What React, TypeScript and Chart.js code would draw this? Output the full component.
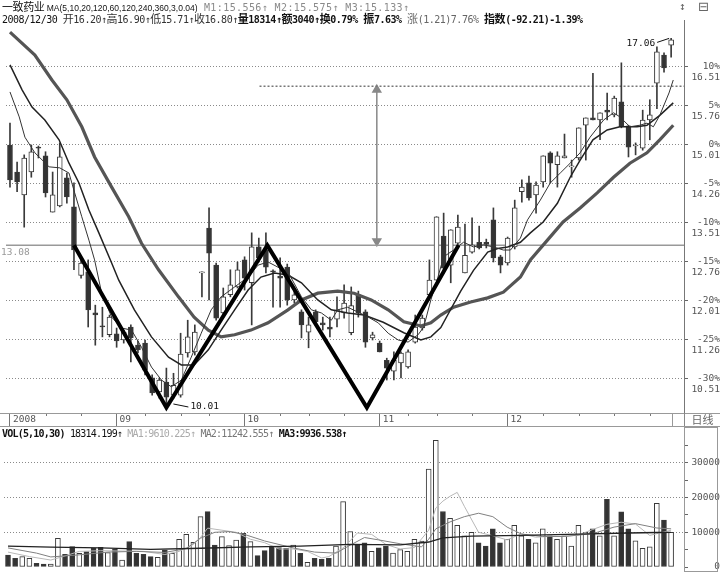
import React, { useEffect, useRef } from "react";
import { Chart, registerables } from "chart.js";

Chart.register(...registerables);

// ---------------- data ----------------
const opens = [
  15.01, 14.49, 14.05, 14.49, 14.97, 14.8, 13.72, 13.84, 14.38, 13.82,
  12.5, 12.57, 11.78, 11.53, 11.36, 11.38, 11.26, 11.51, 11.16, 11.2,
  10.53, 10.26, 10.45, 10.2, 10.2, 11.01, 11.03, 12.55, 13.41, 12.7,
  11.78, 12.13, 12.28, 12.8, 12.36, 13.05, 12.99, 12.59, 12.49, 12.66,
  12.03, 11.8, 11.41, 11.8, 11.59, 11.51, 11.66, 11.78, 11.4, 12.13,
  11.8, 11.3, 11.2, 10.87, 10.66, 10.82, 10.74, 11.22, 11.49, 12.13,
  12.41, 13.26, 12.7, 13.12, 12.55, 12.95, 13.14, 13.14, 13.57, 12.86,
  12.74, 13.05, 14.11, 14.28, 14.05, 14.3, 14.86, 14.63, 14.76, 14.59,
  14.76, 15.39, 15.53, 15.49, 15.68, 15.59, 15.84, 15.38, 14.99, 14.95,
  15.49, 16.2, 16.74, 16.93,
];
const highs = [
  15.43, 14.68, 14.82, 15.01, 14.99, 14.88, 14.49, 15.05, 14.47, 14.28,
  12.8, 12.8, 11.93, 11.89, 11.74, 11.49, 11.45, 11.55, 11.24, 11.26,
  10.59, 10.53, 10.72, 10.62, 11.39, 11.64, 11.55, 12.57, 13.8, 12.74,
  12.26, 12.61, 12.76, 12.86, 13.32, 13.22, 13.32, 12.61, 12.84, 12.72,
  12.2, 11.84, 11.7, 11.84, 11.7, 11.7, 12.09, 12.32, 12.28, 12.2,
  11.84, 11.41, 11.24, 10.91, 11.03, 11.03, 11.07, 11.74, 11.74, 12.8,
  13.63, 13.7, 13.38, 13.66, 13.49, 13.61, 13.45, 13.2, 13.8, 12.89,
  13.24, 13.95, 14.34, 14.41, 14.3, 14.8, 14.88, 14.88, 15.22, 14.72,
  15.34, 15.53, 16.39, 15.63, 16.01, 15.95, 16.59, 15.39, 15.05, 15.68,
  15.88, 16.9, 16.78, 17.06,
];
const lows = [
  14.2, 14.11, 13.43, 14.39, 14.76, 14.01, 13.72, 13.82, 13.89, 12.61,
  12.45, 11.51, 11.16, 11.32, 11.32, 11.12, 11.2, 10.84, 11.01, 10.59,
  10.2, 10.14, 10.01, 10.14, 10.16, 10.93, 10.97, 12.09, 12.03, 11.64,
  11.74, 12.09, 12.26, 12.22, 11.55, 12.76, 12.55, 11.89, 11.89, 11.93,
  11.97, 11.3, 11.11, 11.55, 11.45, 11.32, 11.51, 11.68, 11.36, 11.7,
  11.12, 11.26, 11.03, 10.49, 10.49, 10.53, 10.72, 11.2, 11.45, 12.09,
  12.41, 12.55, 12.36, 13.05, 12.55, 12.93, 13.01, 13.03, 12.76, 12.55,
  12.7, 13.01, 13.91, 13.95, 13.7, 14.2, 14.28, 14.2, 14.76, 14.39,
  14.72, 14.72, 15.49, 15.11, 15.49, 15.55, 15.34, 14.78, 14.82, 14.91,
  15.11, 15.71, 16.41, 16.7,
];
const closes = [
  14.34, 14.3, 14.76, 14.88, 14.95, 14.09, 14.05, 14.78, 14.01, 12.99,
  12.74, 11.84, 11.74, 11.51, 11.7, 11.24, 11.41, 11.3, 11.07, 10.68,
  10.24, 10.49, 10.16, 10.39, 10.99, 11.32, 11.41, 12.57, 12.93, 11.68,
  12.09, 12.32, 12.61, 12.45, 13.05, 12.84, 12.66, 12.57, 12.45, 12.03,
  12.13, 11.55, 11.55, 11.61, 11.55, 11.47, 11.84, 11.97, 11.92, 11.78,
  11.22, 11.36, 11.03, 10.72, 10.87, 11.01, 11.03, 11.51, 11.68, 12.41,
  13.63, 12.64, 13.38, 13.43, 12.89, 13.09, 13.03, 13.1, 12.84, 12.7,
  13.22, 13.8, 14.2, 13.99, 14.24, 14.8, 14.66, 14.8, 14.8, 14.6,
  15.34, 15.53, 15.49, 15.63, 15.64, 15.91, 15.36, 14.97, 15.01, 15.49,
  15.59, 16.8, 16.49, 17.03,
];
const volumes = [
  3460, 2500, 2970, 2500, 1060, 870, 870, 8260, 3650, 5860,
  3940, 4420, 5380, 5670, 4130, 5090, 2020, 7300, 3940, 3650,
  2970, 2790, 4900, 3940, 7970, 9410, 7110, 14500, 15940, 6340,
  8740, 6150, 7780, 9700, 7300, 3270, 4710, 6050, 5570, 5380,
  6340, 3940, 1350, 2500, 2210, 2500, 6050, 18830, 10190, 6340,
  7000, 4500, 5500, 6000, 4000, 5000, 4500, 8000, 7500, 28200,
  36500, 16000, 14000, 12000, 9000, 10000, 7000, 6000, 11000, 7000,
  8000, 12000, 9000, 8000, 7000, 11000, 9000, 8000, 9000, 6000,
  12000, 10000, 11000, 9000, 19500, 9000, 15875, 11000, 7537, 5400,
  5800, 18314, 13500, 10000,
];

// moving averages: [candle index, value]
const maShort: [number, number][] = [
  [0, 16.03], [1.3, 15.55], [2.1, 15.16], [3.5, 14.86], [5.5, 14.59], [7, 14.57], [8.3, 14.47], [9.1, 14.09],
  [10.1, 13.63], [11.1, 13.18], [11.9, 12.8], [12.9, 12.16], [14.3, 11.7], [15.7, 11.49], [17.1, 11.45],
  [18.5, 11.12], [19.9, 10.74], [21.3, 10.49], [22.7, 10.36], [24.1, 10.49], [25.5, 10.93], [26.9, 11.39],
  [28.3, 11.84], [29.7, 12.09], [31.6, 12.28], [33.5, 12.47], [34.9, 12.7], [36.3, 12.76], [37.7, 12.66],
  [39.1, 12.57], [41, 12.09], [42.4, 11.84], [43.8, 11.78], [45.2, 11.64], [46.1, 11.84], [47.5, 11.89],
  [48.9, 11.8], [50.4, 11.7], [51.8, 11.59], [53.2, 11.39], [54.6, 11.26], [56, 11.22], [57.4, 11.36],
  [58.2, 11.51], [59.2, 12.03], [60.2, 12.47], [61, 12.86], [62.4, 12.99], [63.8, 13.14], [65.2, 13.05],
  [66.6, 13.09], [68, 13.05], [69.4, 12.99], [70.4, 12.99], [71.8, 13.22], [72.8, 13.57], [74.6, 13.95],
  [76, 14.28], [77.4, 14.47], [78.8, 14.66], [80.2, 14.86], [81.6, 15.16], [83.5, 15.49], [84.9, 15.63],
  [85.8, 15.55], [87.2, 15.36], [88.6, 15.39], [89.6, 15.43], [90.5, 15.36], [91.4, 15.58], [92.7, 16.01],
  [93.3, 16.26],
];
const maMid: [number, number][] = [
  [0, 16.55], [1.7, 16.07], [3.1, 15.74], [4.9, 15.49], [6.9, 15.11], [8.3, 14.66], [9.7, 14.28], [11.1, 13.76],
  [12.5, 13.32], [14.3, 12.74], [15.3, 12.41], [17.5, 11.84], [19.9, 11.32], [22.3, 10.93], [24.1, 10.78],
  [25.9, 10.78], [27.9, 11.07], [29.7, 11.45], [31.6, 11.84], [33.5, 12.22], [35.3, 12.47], [37.2, 12.55],
  [39.1, 12.51], [41, 12.36], [43.3, 12.03], [45.2, 11.84], [47.5, 11.78], [49.8, 11.74], [52.5, 11.6],
  [55.4, 11.4], [57.8, 11.26], [59.2, 11.32], [60.6, 11.5], [61.6, 11.75], [63.4, 12.2], [65.2, 12.6],
  [67.2, 12.95], [68.6, 13.02], [70, 13.05], [71.8, 13.14], [73.2, 13.32], [75, 13.53], [77, 13.89],
  [78.8, 14.39], [80.2, 14.72], [82, 15.11], [84, 15.3], [85.8, 15.36], [88.2, 15.36], [89.6, 15.39],
  [91.4, 15.58], [93.3, 15.82],
];
const maLong: [number, number][] = [
  [0, 17.18], [3.5, 16.74], [5.9, 16.26], [8, 15.88], [10.1, 15.36], [11.9, 14.78], [14.3, 14.2], [16.7, 13.63],
  [18.5, 13.12], [20.9, 12.61], [23.7, 12.09], [25.9, 11.7], [27.9, 11.45], [29.7, 11.32], [31.6, 11.36],
  [33.9, 11.45], [36.3, 11.59], [39.1, 11.84], [41, 12.03], [43.3, 12.16], [46.1, 12.2], [48.4, 12.16],
  [50.8, 12.03], [53.2, 11.84], [55.4, 11.61], [57.8, 11.53], [59.2, 11.59], [60.6, 11.74], [62.4, 11.89],
  [64.8, 11.99], [67.2, 12.07], [69.4, 12.18], [71.8, 12.47], [73.2, 12.8], [75.6, 13.18], [77.8, 13.53],
  [80.2, 13.8], [82.6, 14.09], [84.9, 14.39], [87.2, 14.66], [89.6, 14.86], [91.4, 15.11], [93.3, 15.39],
];
const volMa1: [number, number][] = [
  [0, 4300], [3, 3000], [6, 2000], [8, 3200], [10, 4500], [13, 4700], [16, 4600], [19, 4500], [22, 3600],
  [24, 4500], [26, 6500], [27, 8500], [28, 11200], [30, 10600], [32, 10000], [34, 8000], [36, 7000],
  [38, 5200], [40, 5200], [42, 4500], [44, 2600], [45, 3000], [47, 5500], [48, 7600], [49, 9800],
  [51, 9400], [53, 6500], [55, 5200], [57, 5600], [59, 10600], [60, 17000], [61, 19000], [62, 20400],
  [63, 21500], [64, 17500], [66, 10000], [68, 9000], [70, 7800], [72, 9600], [74, 8600], [76, 8800],
  [78, 8800], [80, 9200], [82, 10800], [84, 12300], [86, 12900], [88, 12400], [90, 9100], [91, 9610],
  [93, 10600],
];
const volMa2: [number, number][] = [
  [0, 5500], [4, 4000], [6, 2900], [10, 3500], [14, 4300], [18, 4500], [22, 4200], [25, 5300], [27, 8300],
  [29, 10000], [31, 10200], [33, 9500], [36, 7500], [40, 5500], [43, 4300], [46, 4000], [48, 6300],
  [50, 8500], [52, 7800], [55, 6700], [58, 5800], [59, 8000], [60, 11000], [62, 13000], [64, 14500],
  [66, 15500], [68, 14500], [70, 11500], [72, 9500], [75, 8800], [78, 8800], [82, 9600], [85, 11500],
  [88, 12500], [91, 11242], [93, 11000],
];
const volMa3: [number, number][] = [
  [0, 6000], [6, 5700], [13, 5500], [20, 5100], [27, 5400], [34, 5800], [41, 6000], [48, 6500], [55, 6400],
  [59, 7200], [61, 8400], [65, 8900], [72, 9100], [80, 9500], [87, 9800], [91, 9936], [93, 10000],
];

// W pattern drawn on the chart
const wPattern: [number, number][] = [[9, 13.08], [22, 9.96], [36.2, 13.08], [50.2, 9.96], [63.1, 13.08]];
const necklineValue = 13.08;
const targetValue = 16.14;
const targetStartIdx = 35.1;
const arrowIdx = 51.6;
const arrowTop = 16.07;
const arrowBottom = 13.16;

// axes
const priceTicks = [10.51, 11.26, 12.01, 12.76, 13.51, 14.26, 15.01, 15.76, 16.51];
const pctTicks = ["-30%", "-25%", "-20%", "-15%", "-10%", "-5%", "0%", "5%", "10%"];
const monthIdx = [0, 15, 33, 52, 70];
const monthLabels = ["2008", "09", "10", "11", "12"];
const weekIdx = [5, 10, 19, 24, 28, 38, 42, 47, 56, 60, 65, 75, 80, 85, 90];
const volTicks = [0, 5000, 10000, 15000, 20000, 25000, 30000, 35000];

const xMin = -0.561;
const xMax = 94.81;
const priceMin = 9.856;
const priceMax = 17.279;
const volMax = 36600;

const MONO = '"DejaVu Sans Mono", "Liberation Mono", monospace';
const CJK = '"Noto Sans CJK SC", sans-serif';

const pts = (a: [number, number][]) => a.map(([x, y]) => ({ x, y }));
const isUp = closes.map((c, i) => c >= opens[i]);

const priceOverlay = {
  id: "priceOverlay",
  afterDraw(chart: any) {
    const { ctx, chartArea, scales } = chart;
    const xs = scales.x;
    const ys = scales.y;
    ctx.save();
    ctx.strokeStyle = "#777";
    ctx.lineWidth = 1;
    for (const w of weekIdx) {
      const px = Math.round(xs.getPixelForValue(w)) + 0.5;
      ctx.beginPath();
      ctx.moveTo(px, chartArea.bottom);
      ctx.lineTo(px, chartArea.bottom + 3);
      ctx.stroke();
    }
    ctx.font = `9.5px ${MONO}`;
    ctx.textBaseline = "middle";
    ctx.textAlign = "left";
    ctx.fillStyle = "#999";
    ctx.fillText(necklineValue.toFixed(2), 1, ys.getPixelForValue(necklineValue) + 7);

    let lo = 0;
    let hi = 0;
    lows.forEach((v, i) => { if (v < lows[lo]) lo = i; });
    highs.forEach((v, i) => { if (v > highs[hi]) hi = i; });
    ctx.strokeStyle = "#111";
    ctx.fillStyle = "#111";
    const lx = xs.getPixelForValue(lo);
    const ly = ys.getPixelForValue(lows[lo]);
    ctx.beginPath();
    ctx.moveTo(lx + 7, ly - 1);
    ctx.lineTo(lx + 22, ly + 2);
    ctx.stroke();
    ctx.fillText(lows[lo].toFixed(2), lx + 24, ly + 2);
    const hx = xs.getPixelForValue(hi);
    const hy = ys.getPixelForValue(highs[hi]);
    ctx.beginPath();
    ctx.moveTo(hx - 2, hy);
    ctx.lineTo(hx - 14, hy + 4);
    ctx.stroke();
    ctx.textAlign = "right";
    ctx.fillText(highs[hi].toFixed(2), hx - 16, hy + 5);
    ctx.restore();
  },
};

const cjkRe = /([\u4e00-\u9fff]+)/;
function T({ text, style }: { text: string; style?: React.CSSProperties }) {
  return (
    <span style={style}>
      {text.split(cjkRe).map((p, i) =>
        cjkRe.test(p) ? (
          <span key={i} style={{ fontFamily: CJK, fontSize: 11, letterSpacing: "-0.4px" }}>{p}</span>
        ) : (
          <React.Fragment key={i}>{p}</React.Fragment>
        )
      )}
    </span>
  );
}

export default function App() {
  const priceRef = useRef<HTMLCanvasElement>(null);
  const volRef = useRef<HTMLCanvasElement>(null);

  useEffect(() => {
    const priceChart = new Chart(priceRef.current as HTMLCanvasElement, {
      type: "bar",
      data: {
        datasets: [
          { type: "line", label: "W", data: pts(wPattern), borderColor: "#000", borderWidth: 4, pointRadius: 0, borderJoinStyle: "miter", order: 0 } as any,
          { type: "line", label: "MA5", data: pts(maShort), borderColor: "#333", borderWidth: 1, pointRadius: 0, order: 1 } as any,
          { type: "line", label: "MA10", data: pts(maMid), borderColor: "#222", borderWidth: 1.5, pointRadius: 0, order: 2 } as any,
          { type: "line", label: "MA20", data: pts(maLong), borderColor: "#555", borderWidth: 3.2, pointRadius: 0, order: 3 } as any,
          { type: "line", label: "neck", data: [{ x: xMin, y: necklineValue }, { x: xMax, y: necklineValue }], borderColor: "#999", borderWidth: 1.5, pointRadius: 0, order: 8 } as any,
          { type: "line", label: "target", data: [{ x: targetStartIdx, y: targetValue }, { x: xMax, y: targetValue }], borderColor: "#777", borderWidth: 1.5, borderDash: [2, 2], pointRadius: 0, order: 8 } as any,
          {
            type: "line", label: "arrow", data: [{ x: arrowIdx, y: arrowTop }, { x: arrowIdx, y: arrowBottom }],
            borderColor: "#888", borderWidth: 1.5, pointStyle: "triangle", pointRadius: 4.5, pointRotation: [0, 180],
            pointBackgroundColor: "#888", pointBorderColor: "#888", order: 8,
          } as any,
          {
            type: "bar", label: "body", data: opens.map((o, i) => ({ x: i, y: [o, closes[i]] })),
            backgroundColor: isUp.map((u) => (u ? "#fff" : "#333")), borderColor: "#3a3a3a", borderWidth: 1,
            borderSkipped: false, barThickness: 5, grouped: false, minBarLength: 1, order: 6,
          } as any,
          {
            type: "bar", label: "wick", data: lows.map((l, i) => ({ x: i, y: [l, highs[i]] })),
            backgroundColor: "#3a3a3a", borderWidth: 0, barThickness: 1, grouped: false, order: 7,
          } as any,
        ],
      },
      options: {
        responsive: false,
        animation: false,
        events: [],
        layout: { padding: { top: 27, left: 4, right: 0, bottom: 0 } },
        plugins: { legend: { display: false }, tooltip: { enabled: false }, title: { display: false } },
        scales: {
          x: {
            type: "linear", min: xMin, max: xMax, position: "bottom", offset: false,
            afterFit: (s: any) => { s.height = 14; },
            afterBuildTicks: (s: any) => { s.ticks = monthIdx.map((v) => ({ value: v })); },
            ticks: {
              callback: (v: any) => { const k = monthIdx.indexOf(v); return k >= 0 ? monthLabels[k] : ""; },
              align: "start", labelOffset: 3, padding: -12, maxRotation: 0, minRotation: 0, autoSkip: false,
              color: "#555", font: { family: MONO, size: 9.5 },
            },
            grid: { display: true, offset: false, drawOnChartArea: false, drawTicks: true, tickLength: 13, tickColor: "#777", color: "#777" },
            border: { display: true, color: "#888" },
          },
          y: {
            type: "linear", position: "right", min: priceMin, max: priceMax, beginAtZero: false,
            afterFit: (s: any) => { s.width = 36; },
            afterBuildTicks: (s: any) => { s.ticks = priceTicks.map((v) => ({ value: v })); },
            ticks: {
              callback: (v: any) => { const k = priceTicks.indexOf(v); return k >= 0 ? [pctTicks[k], priceTicks[k].toFixed(2)] : ""; },
              crossAlign: "far", padding: 0, labelOffset: 5, autoSkip: false, color: "#555",
              font: { family: MONO, size: 9.5, lineHeight: 1.25 },
            },
            grid: { color: "#8a8a8a", lineWidth: 1, tickLength: 4, tickColor: "#666", tickBorderDash: [] },
            border: { display: true, color: "#777", dash: [1, 2] },
          },
        },
      } as any,
      plugins: [priceOverlay],
    });

    const volChart = new Chart(volRef.current as HTMLCanvasElement, {
      type: "bar",
      data: {
        datasets: [
          { type: "line", label: "MA3", data: pts(volMa3), borderColor: "#222", borderWidth: 1.3, pointRadius: 0, order: 0 } as any,
          { type: "line", label: "MA2", data: pts(volMa2), borderColor: "#808080", borderWidth: 1, pointRadius: 0, order: 1 } as any,
          { type: "line", label: "MA1", data: pts(volMa1), borderColor: "#b8b8b8", borderWidth: 1, pointRadius: 0, order: 2 } as any,
          {
            type: "bar", label: "VOL", data: volumes.map((v, i) => ({ x: i, y: v })),
            backgroundColor: isUp.map((u) => (u ? "#fff" : "#333")), borderColor: "#3a3a3a", borderWidth: 1,
            borderSkipped: false, barThickness: 5, grouped: false, order: 5,
          } as any,
        ],
      },
      options: {
        responsive: false,
        animation: false,
        events: [],
        layout: { padding: { top: 13, left: 4, right: 0, bottom: 8 } },
        plugins: { legend: { display: false }, tooltip: { enabled: false } },
        scales: {
          x: { type: "linear", min: xMin, max: xMax, display: false, offset: false },
          y: {
            type: "linear", position: "right", min: 0, max: volMax,
            afterFit: (s: any) => { s.width = 36; },
            afterBuildTicks: (s: any) => { s.ticks = volTicks.map((v) => ({ value: v })); },
            ticks: {
              callback: (v: any) => (v % 10000 === 0 ? String(v) : ""),
              crossAlign: "far", padding: 0, autoSkip: false, color: "#555",
              font: { family: MONO, size: 9.5 },
            },
            grid: {
              color: (c: any) => (c.tick && c.tick.value > 0 && c.tick.value % 10000 === 0 ? "#8a8a8a" : "rgba(0,0,0,0)"),
              tickLength: 4, tickColor: "#666", tickBorderDash: [],
            },
            border: { display: true, color: "#777", dash: [1, 2] },
          },
        },
      } as any,
    });

    return () => {
      priceChart.destroy();
      volChart.destroy();
    };
  }, []);

  const head: React.CSSProperties = {
    position: "absolute", left: 2, whiteSpace: "nowrap", fontFamily: MONO, fontSize: 10,
    lineHeight: "12px", letterSpacing: "-0.5px", color: "#111",
  };
  const mStyle: React.CSSProperties = { color: "#8a8a8a", letterSpacing: "0.4px" };

  return (
    <div style={{ position: "fixed", left: 0, top: 0, width: 720, height: 575, background: "#fff", overflow: "hidden" }}>
      <canvas ref={priceRef} width={720} height={427} style={{ position: "absolute", left: 0, top: 0 }} />
      <canvas ref={volRef} width={720} height={148} style={{ position: "absolute", left: 0, top: 427 }} />

      <div style={{ ...head, top: 0 }}>
        <T text="一致药业" />
        <span style={{ fontFamily: '"Liberation Sans", sans-serif', fontSize: 8.5, letterSpacing: "0px" }}> MA(5,10,20,120,60,120,240,360,3,0.04)</span>
        <span style={mStyle}> M1:15.556↑</span>
        <span style={mStyle}> M2:15.575↑</span>
        <span style={mStyle}> M3:15.133↑</span>
      </div>
      <div style={{ ...head, top: 12 }}>
        <T text="2008/12/30 " />
        <T text="开16.20↑高16.90↑低15.71↑收16.80↑" style={{ color: "#333" }} />
        <T text="量18314↑额3040↑换0.79% 振7.63%" style={{ fontWeight: "bold" }} />
        <T text=" 涨(1.21)7.76% " style={{ color: "#666" }} />
        <T text="指数(-92.21)-1.39%" style={{ fontWeight: "bold" }} />
      </div>
      <div style={{ position: "absolute", left: 679, top: 0, fontSize: 11, color: "#666", fontFamily: MONO }}>↕</div>
      <div style={{ position: "absolute", left: 698, top: -1, fontSize: 13, color: "#666", fontFamily: '"DejaVu Sans", sans-serif' }}>⊟</div>
      <div style={{ position: "absolute", left: 684, top: 20, width: 1, height: 8, background: "#777" }} />

      <div style={{ position: "absolute", left: 0, top: 413, width: 720, height: 1, background: "#999" }} />
      <div style={{ position: "absolute", left: 0, top: 426, width: 720, height: 1, background: "#999" }} />
      <div style={{ position: "absolute", left: 672, top: 414, width: 1, height: 12, background: "#999" }} />
      <div style={{ position: "absolute", left: 684, top: 413, width: 36, height: 13, borderLeft: "1px solid #888", boxSizing: "border-box", fontFamily: CJK, fontSize: 11, lineHeight: "13px", color: "#666", textAlign: "center" }}>日线</div>
      <div style={{ position: "absolute", left: 684, top: 427, width: 34, height: 145, border: "1px solid #999", boxSizing: "border-box" }} />

      <div style={{ ...head, top: 428, fontSize: 10, letterSpacing: "-0.8px" }}>
        <span style={{ fontWeight: "bold" }}>VOL(5,10,30)</span>
        <span> 18314.199↑</span>
        <span style={{ color: "#aaa" }}> MA1:9610.225↑</span>
        <span style={{ color: "#777" }}> MA2:11242.555↑</span>
        <span style={{ fontWeight: "bold" }}> MA3:9936.538↑</span>
      </div>
    </div>
  );
}
